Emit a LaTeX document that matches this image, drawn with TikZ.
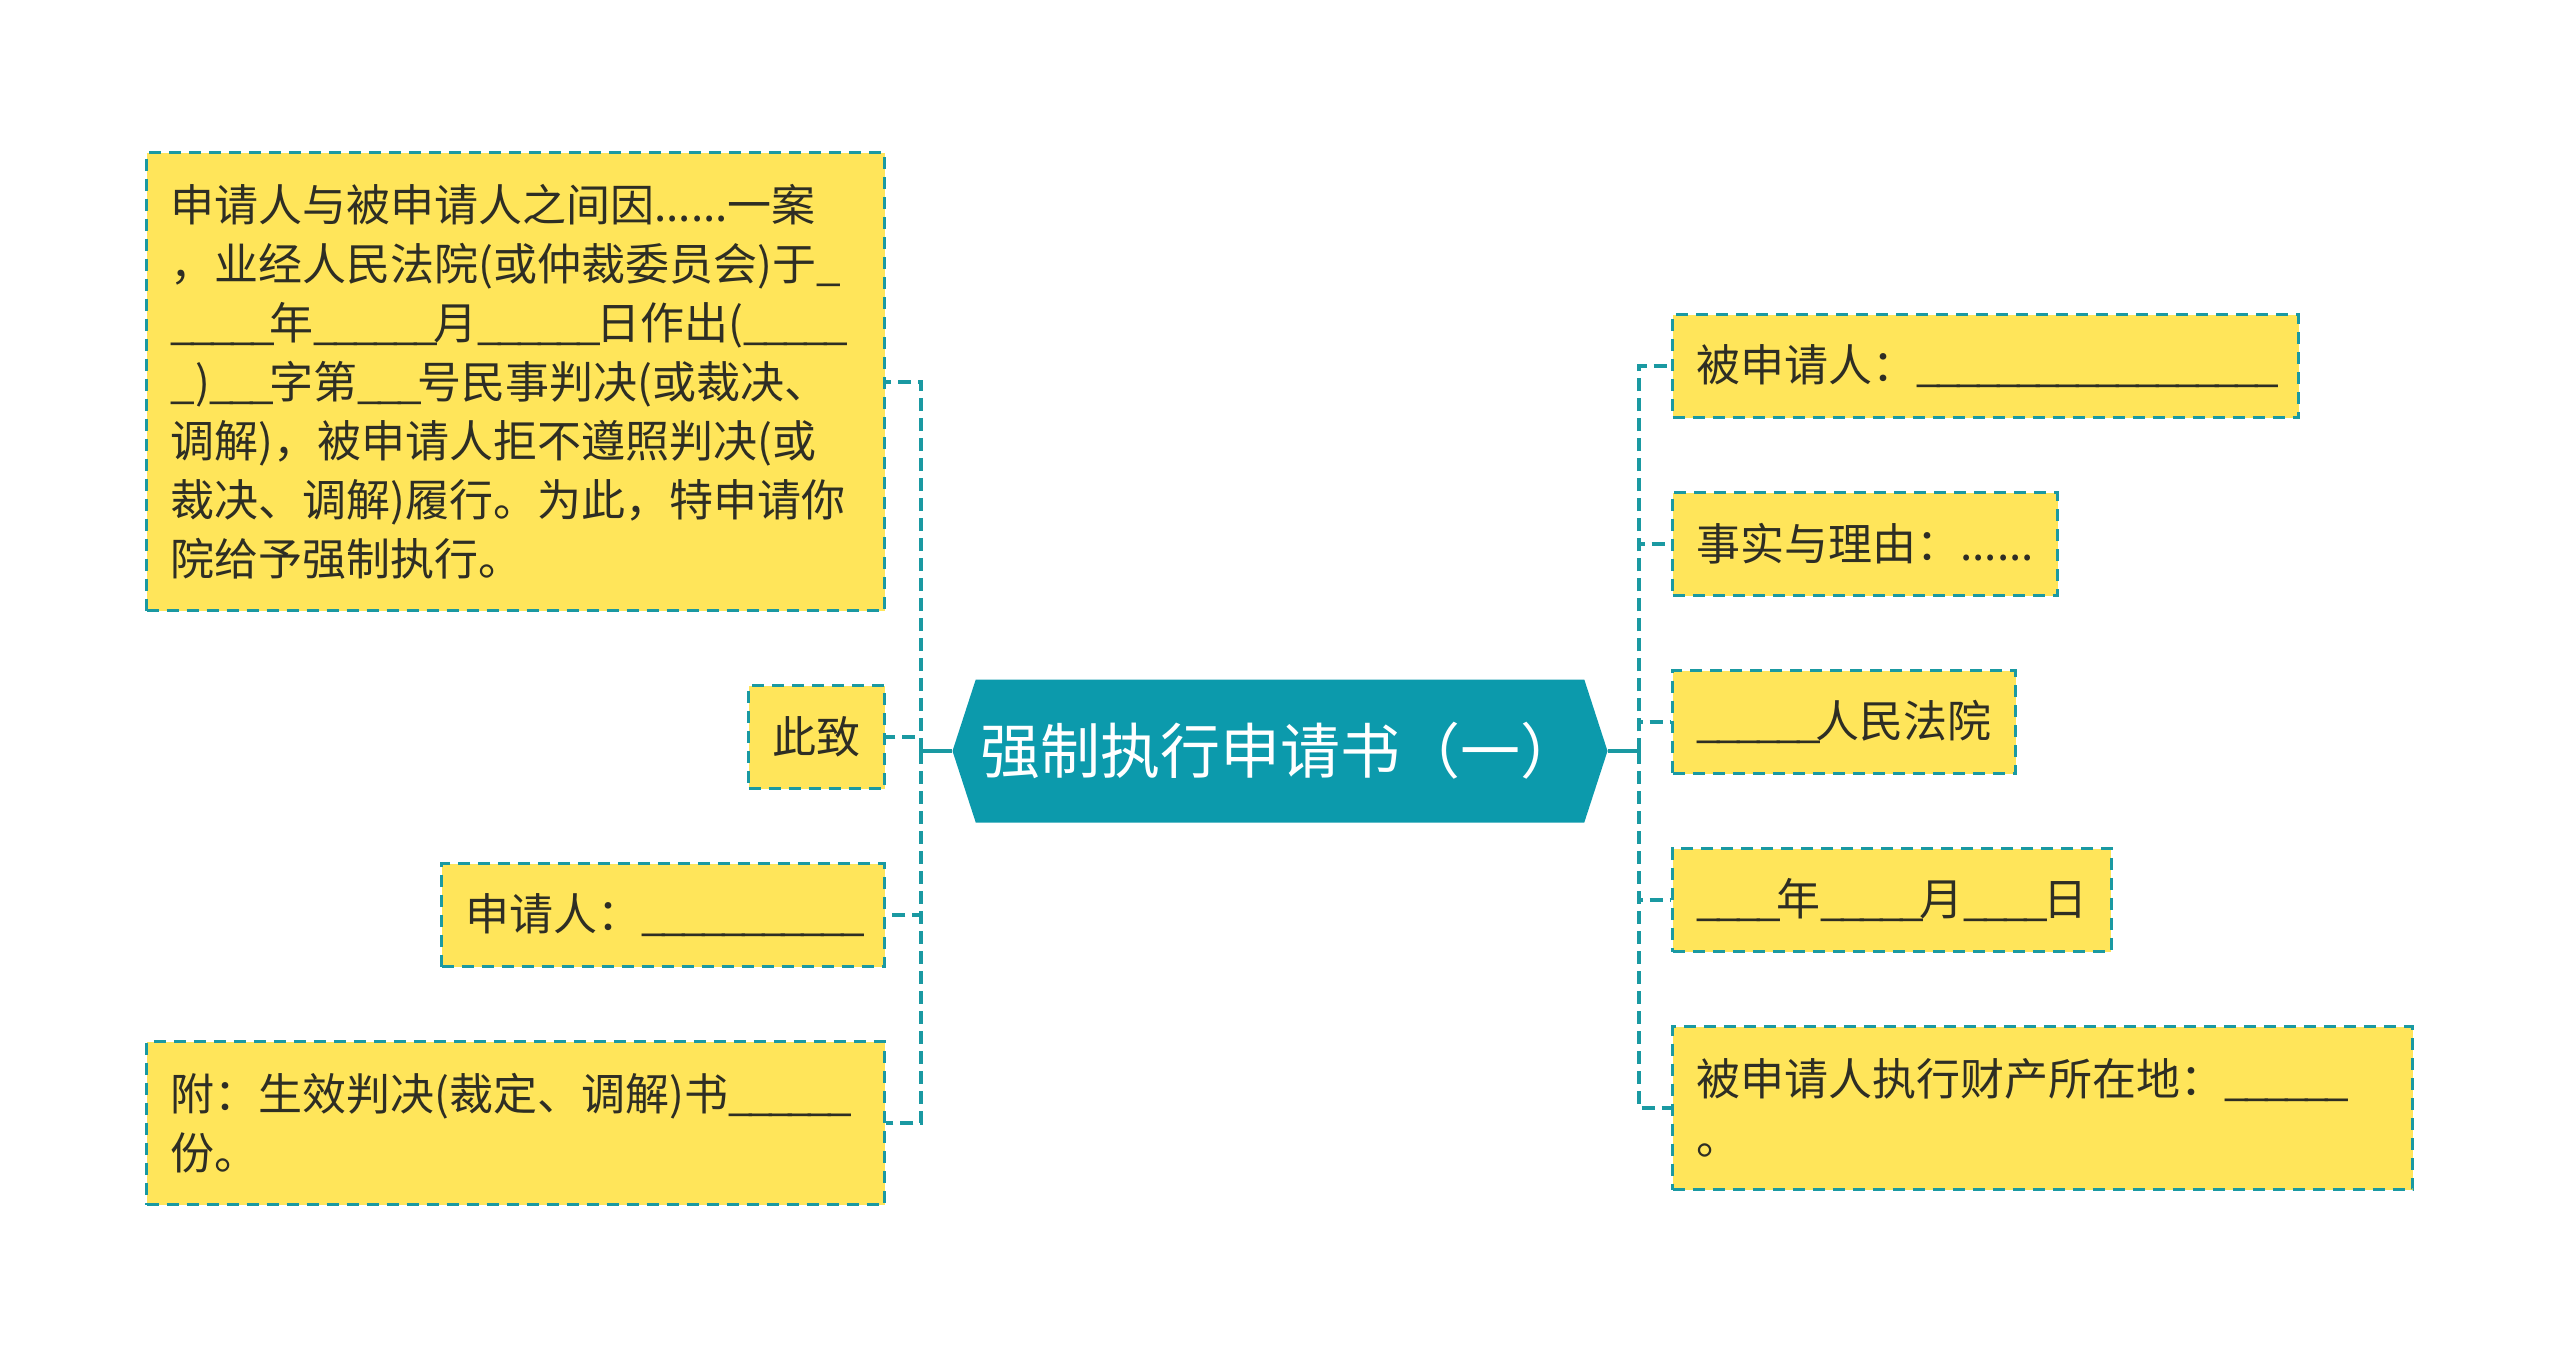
\documentclass[tikz,border=0pt]{standalone}
\usepackage{fontspec}
\setmainfont{Noto Sans CJK SC}
\usetikzlibrary{positioning, shapes.symbols}

\definecolor{hubteal}{HTML}{0C9AAC}
\definecolor{linkteal}{HTML}{1A99A2}
\definecolor{noteyellow}{HTML}{FFE55A}
\definecolor{notetext}{HTML}{2E2E24}

% a blank line of #1 underscores, set a little tighter
\newcommand{\blk}[1]{\foreach \k in {1,...,#1}{\_\kern-4.7pt}}

\begin{document}
\begin{tikzpicture}[x=1pt, y=-1pt, node distance=72pt,
    note/.style={rectangle, draw=linkteal, fill=noteyellow, line width=3pt, dash pattern=on 12pt off 8pt, text=notetext, align=left, inner xsep=24pt, minimum height=103pt, font=\fontsize{44}{59}\selectfont},
    hub/.style={signal, signal to=west and east, signal pointer angle=144, fill=hubteal, text=white, minimum width=655pt, minimum height=143pt, inner sep=0pt, font=\fontsize{60}{64}\selectfont},
    stem/.style={draw=linkteal, line width=4pt},
    branch/.style={draw=linkteal, line width=4pt, dash pattern=on 13pt off 7pt}
]
\useasboundingbox (0,0) rectangle (2560,1355);

% Root
\node[hub] (main) at (1280,751) {强制执行申请书（一）};

% Left branches
\node[note, anchor=north east, minimum height=458pt, text width=690pt] (plea) at (886,151) {申请人与被申请人之间因......一案\\，业经人民法院(或仲裁委员会)于\_\\\blk{5}年\blk{6}月\blk{6}日作出(\blk{5}\\\_)\blk{3}字第\blk{3}号民事判决(或裁决、\\调解)，被申请人拒不遵照判决(或\\裁决、调解)履行。为此，特申请你\\院给予强制执行。};
\node[note, below=of plea.south east, anchor=north east] (greet) {此致};
\node[note, below=of greet.south east, anchor=north east] (applicant) {申请人：\blk{11}};
\node[note, below=of applicant.south east, anchor=north east, minimum height=163pt, text width=690pt] (attach) {附：生效判决(裁定、调解)书\blk{6}\\份。};

% Right branches
\node[note, anchor=north west] (respondent) at (1671,313) {被申请人：\blk{18}};
\node[note, below=of respondent.south west, anchor=north west] (facts) {事实与理由：......};
\node[note, below=of facts.south west, anchor=north west] (court) {\blk{6}人民法院};
\node[note, below=of court.south west, anchor=north west] (date) {\blk{4}年\blk{5}月\blk{4}日};
\node[note, below=of date.south west, anchor=north west, minimum height=163pt, text width=692pt] (property) {被申请人执行财产所在地：\blk{6}\\。};

% Connections
\coordinate (ljoint) at ([xshift=-31pt]main.west);
\coordinate (rjoint) at ([xshift=31pt]main.east);
\draw[stem] (main.west) -- (ljoint);
\draw[stem] (main.east) -- (rjoint);
\foreach \n in {plea, greet, applicant, attach}
    \draw[branch] (ljoint) |- (\n.east);
\foreach \n in {respondent, facts, court, date, property}
    \draw[branch] (rjoint) |- (\n.west);

\end{tikzpicture}
\end{document}
